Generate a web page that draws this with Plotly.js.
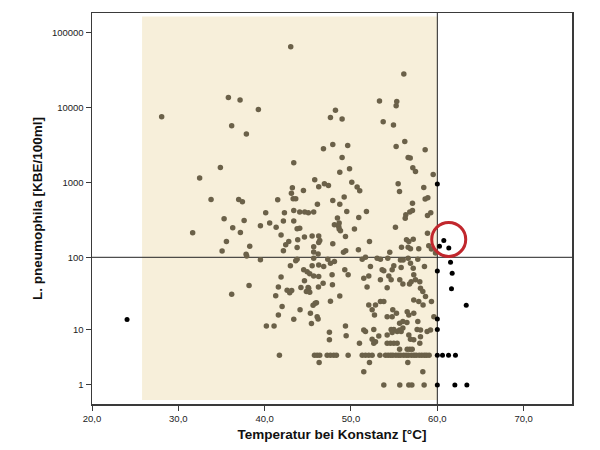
<!DOCTYPE html>
<html>
<head>
<meta charset="utf-8">
<script src="https://cdn.plot.ly/plotly-3.0.1.min.js"></script>
<style>html,body{margin:0;padding:0;background:#fff;}#chart{width:600px;height:450px;}</style>
</head>
<body>
<div id="chart"></div>
<script>
// Temperature [°C] and L. pneumophila [KBE/100ml] inside the reference range (brown points)
const tempIn = [
43.02,28.07,35.80,37.15,39.27,36.18,37.88,43.37,34.87,32.47,43.21,43.10,43.30,43.60,33.79,36.99,37.42,41.51,40.12,42.29,43.37,35.30,37.62,40.58,42.17,43.37,
56.12,53.30,55.30,55.23,48.20,47.62,48.97,53.73,54.92,56.23,55.23,47.89,46.81,49.62,58.59,48.97,56.62,56.86,57.16,57.47,49.83,48.70,59.52,45.80,50.09,46.26,46.92,47.39,44.49,50.71,51.01,55.46,55.62,58.43,58.59,58.90,49.21,47.89,48.70,46.11,57.12,44.06,44.64,45.06,45.68,49.51,51.79,50.90,48.43,48.63,57.12,56.81,56.35,56.28,58.86,59.24,
39.51,36.30,37.19,31.66,35.57,38.27,35.07,37.85,37.92,39.51,38.19,36.18,
41.33,41.90,42.17,42.44,42.79,43.76,43.83,43.76,43.76,42.98,41.90,41.59,41.28,42.02,41.59,40.20,41.09,42.60,42.90,43.13,43.37,44.20,44.10,
48.08,48.58,48.63,48.78,50.40,44.06,44.61,45.50,46.26,46.38,46.26,45.68,45.68,46.19,47.89,49.39,49.13,50.86,49.36,43.60,45.68,47.31,48.08,47.62,45.50,46.26,46.84,44.52,44.92,45.22,45.68,46.26,49.28,49.67,47.81,
44.61,45.03,44.83,45.22,45.10,46.23,46.77,47.85,48.70,47.62,45.85,46.00,45.61,45.30,46.08,46.19,45.42,47.50,47.50,49.36,49.44,50.98,
55.15,58.86,56.43,56.70,57.21,56.62,56.89,55.85,57.85,54.49,52.14,59.01,59.32,59.79,51.68,51.30,53.03,53.41,54.26,55.73,56.04,56.62,57.74,52.25,53.61,53.80,54.96,54.77,55.81,56.89,57.21,58.51,51.48,52.06,54.38,54.65,55.65,57.27,57.47,57.97,53.41,
51.86,54.19,56.01,56.78,56.97,58.05,58.32,58.63,57.27,57.85,58.35,59.32,52.06,52.84,53.41,53.80,52.45,52.72,54.19,54.77,54.84,55.27,56.51,56.70,57.27,55.63,56.01,56.48,57.74,59.60,
51.48,51.68,52.64,52.45,52.84,52.64,53.22,54.19,54.65,54.96,55.35,55.63,54.77,56.01,55.81,56.70,56.89,57.27,57.66,58.05,58.05,57.97,58.82,59.21,
54.19,54.57,54.96,55.35,55.63,56.51,56.81,57.09,
46.31,52.14,56.58,51.48,58.32,
53.80,55.65,56.70,57.05,58.47,
41.71,45.77,46.08,46.38,47.24,47.62,48.00,48.31,49.67,51.30,51.68,52.06,52.45,53.35,
54.00,54.30,54.60,54.85,55.20,55.50,55.75,56.10,56.40,56.65,57.00,57.30,57.55,57.90,58.20,58.50,58.75,59.05
];
const legIn = [
65200,7570,13700,12650,9480,5740,4450,1840,1590,1150,853,724,608,608,596,596,554,589,395,395,424,328,312,288,306,306,
28100,12270,12100,10600,9290,7410,7050,6490,5860,3540,3040,3230,2830,3130,2740,2170,2170,2140,1580,1409,1530,1380,1285,1090,1016,880,965,915,785,872,778,965,762,861,603,627,641,577,516,516,532,404,404,395,404,411,411,342,336,288,424,404,371,333,363,395,
265,249,215,213,163,141,122,110,104,93,41.4,31.5,
254,199,123,147,163,241,172,135,94,77,54.3,39.6,30.1,21.2,16.2,11.2,11.2,35.7,33.1,35.5,14.1,39,19.2,
274,259,240,227,240,246,187,194,194,168,158,139,118,111,152,123,117,126,190,90,97,94,88,83,77,79,75,68,64,60,56,55,68,58,58,
48,38.8,34.2,33.6,38.1,39.6,44.6,42.3,29.8,25.2,23.6,24,22.2,17.1,15.3,14.2,12.2,9.1,7.0,11.2,8.1,6.2,
254,211,172,163,175,137,130,137,130,117,163,143,129,114,100,94,97,94,97,92,92,97,94,75,68,66,77,68,73,83,71,75,52,56,56,49.5,49.5,58,49.5,46.5,49.5,
39.6,38.6,43.6,43.6,46.5,38.1,34.2,29.2,26.3,25,22.4,25,22.4,22.4,25,25,19.1,16.2,15.3,15.3,19.1,17.1,18,16.2,17.1,12.3,13.0,12.6,13.0,15.3,
9.85,9.3,10,7.15,6.57,6.2,8.0,8.3,10,10,9.3,9.85,9,10.5,9.3,8.3,7.15,7.0,10,9.85,7.8,6.2,9.3,9.85,
6.2,6.2,6.2,6.2,5,5,5,5,
3,3,3,2,2,
1,1,1,1,1,
4,4,4,4,4,4,4,4,4,4,4,4,4,4,
4,4,4,4,4,4,4,4,4,4,4,4,4,4,4,4,4,4
];
// Points outside the reference range (black points)
const tempOut = [24.06,60.0,60.75,60.25,61.33,61.53,61.72,61.64,63.35,60.0,60.0,60.0,60.0,60.6,61.3,62.1,60.0,62.03,63.42];
const legOut  = [14.0,957,168,141,133,86,61,37.3,22.2,65.5,14.2,10,4,4,4,4,1,1,1];

// Axis ticks
const xTickVals = [20,30,40,50,60,70];
const xTickText = ['20,0','30,0','40,0','50,0','60,0','70,0'];
const yTickVals = [1,10,100,1000,10000,100000];
const yTickText = ['1','10','100','1000','10000','100000'];

// Reference area and reference lines
const refTempLow = 25.8, refTempHigh = 60;
const refLeg = 100;
const circleTemp = 61.32, circleLeg = 174;

const xRange = [20, 75.6];
const yRange = [0.047, 5.264];

// y axis in SPSS is log10(value + 1)
const tf = v => Math.log10(v + 1);

const traces = [
  {x: tempIn, y: legIn.map(tf), type: 'scatter', mode: 'markers', cliponaxis: false,
   marker: {size: 5.5, color: '#6b6149'}, hoverinfo: 'skip'},
  {x: tempOut, y: legOut.map(tf), type: 'scatter', mode: 'markers', cliponaxis: false,
   marker: {size: 5, color: '#000000'}, hoverinfo: 'skip'}
];

const axisCommon = {
  showline: true, mirror: true, linecolor: '#3a3a3a', linewidth: 1.5,
  showgrid: false, zeroline: false, ticks: 'outside', ticklen: 5, tickcolor: '#3a3a3a', tickwidth: 1,
  tickfont: {family: 'Liberation Sans, Arial, sans-serif', size: 9.5, color: '#222'}
};

const titleFont = {family: 'Liberation Sans, Arial, sans-serif', size: 13.5, color: '#111', weight: 'bold'};

const layout = {
  width: 600, height: 450,
  margin: {l: 92, r: 28, t: 13, b: 46},
  paper_bgcolor: '#ffffff', plot_bgcolor: '#ffffff',
  showlegend: false,
  xaxis: Object.assign({}, axisCommon, {
    range: xRange, tickvals: xTickVals, ticktext: xTickText,
    title: {text: 'Temperatur bei Konstanz [°C]', standoff: 6, font: titleFont}
  }),
  yaxis: Object.assign({}, axisCommon, {
    range: yRange, tickvals: yTickVals.map(tf), ticktext: yTickText,
    title: {text: 'L. pneumophila [KBE/100ml]', standoff: 6, font: titleFont}
  }),
  shapes: [
    {type: 'rect', xref: 'x', yref: 'y', x0: refTempLow, x1: refTempHigh, y0: 0.101, y1: 5.218,
     fillcolor: '#f7efda', line: {width: 0}, layer: 'below'},
    {type: 'line', xref: 'x', yref: 'y', x0: xRange[0], x1: xRange[1], y0: tf(refLeg), y1: tf(refLeg),
     line: {color: '#222', width: 1}, layer: 'below'},
    {type: 'line', xref: 'x', yref: 'y', x0: refTempHigh, x1: refTempHigh, y0: yRange[0], y1: yRange[1],
     line: {color: '#222', width: 1}, layer: 'below'},
    {type: 'circle', xref: 'x', yref: 'y', xsizemode: 'pixel', ysizemode: 'pixel',
     xanchor: circleTemp, yanchor: tf(circleLeg), x0: -17, x1: 17, y0: -17, y1: 17,
     line: {color: '#c1272d', width: 3}, layer: 'above'}
  ]
};

Plotly.newPlot('chart', traces, layout, {staticPlot: true, displayModeBar: false});
</script>
</body>
</html>
